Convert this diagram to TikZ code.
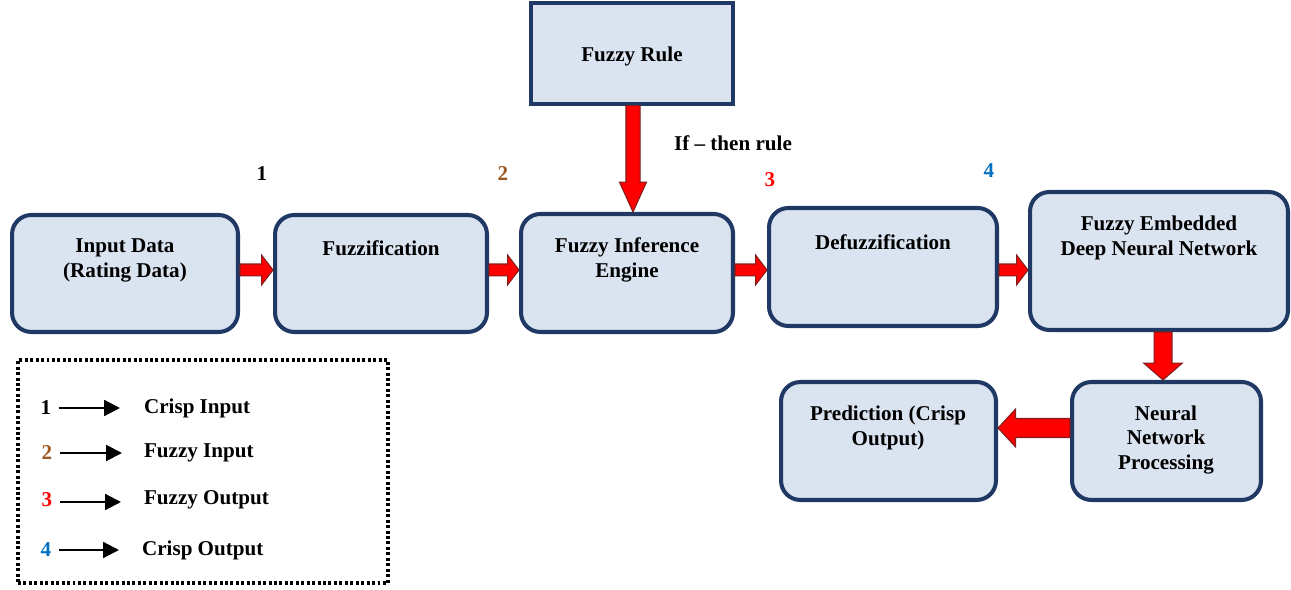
\documentclass[tikz,border=0pt]{standalone}
\usepackage{fontspec}
\setmainfont{Liberation Serif}
\usetikzlibrary{arrows.meta,calc}
\definecolor{boxblue}{RGB}{218,227,240}
\definecolor{boxedge}{RGB}{31,56,100}
\definecolor{arrowred}{RGB}{255,0,0}
\definecolor{arrowedge}{RGB}{130,30,30}
\definecolor{numbrown}{RGB}{156,87,30}
\definecolor{numblue}{RGB}{0,112,192}

\tikzset{
  stage/.style={draw=boxedge, fill=boxblue, line width=2.3pt, rounded corners=11pt, inner sep=0pt},
  rulebox/.style={draw=boxedge, fill=boxblue, line width=1.8pt, inner sep=0pt},
  txt/.style={font=\bfseries\fontsize{12}{14.2}\selectfont, align=center, inner sep=1pt},
  keybox/.style={draw=black, line width=1.8pt, dash pattern=on 1.7pt off 1.4pt, inner sep=0pt},
  key/.style={-{Triangle[length=9pt,width=9pt]}, line width=1.2pt, shorten <=3pt},
  % fat block arrow between two points
  fat shaft/.store in=\fatshaft, fat wing/.store in=\fatwing, fat head/.store in=\fathead,
  fat shaft=3.4pt, fat wing=8.5pt, fat head=6.5pt,
  fatarrow/.style={draw=arrowedge, fill=arrowred, line width=0.6pt, line join=miter,
    to path={let \p1=($(\tikztotarget)-(\tikztostart)$), \n1={atan2(\y1,\x1)} in
      ($(\tikztostart)+(\n1+90:\fatshaft)$)
      -- ($(\tikztotarget)+(\n1+180:\fathead)+(\n1+90:\fatshaft)$)
      -- ($(\tikztotarget)+(\n1+180:\fathead)+(\n1+90:\fatwing)$)
      -- (\tikztotarget)
      -- ($(\tikztotarget)+(\n1+180:\fathead)+(\n1-90:\fatwing)$)
      -- ($(\tikztotarget)+(\n1+180:\fathead)+(\n1-90:\fatshaft)$)
      -- ($(\tikztostart)+(\n1-90:\fatshaft)$) -- cycle}},
}

\begin{document}
\begin{tikzpicture}[x=0.02cm,y=-0.02cm]
\useasboundingbox (0,0) rectangle (1291,590);

% Fuzzy rule base
\node[rulebox, minimum width=4.04cm, minimum height=2.02cm] (rule) at (632,53.5) {};
\node[txt] (ruletxt) at (632,56) {Fuzzy Rule};

% Top row of stages
\node[stage, minimum width=4.52cm, minimum height=2.34cm] (input) at (125,273.5) {};
\node[txt] (inputtxt) at (125,260) {Input Data\\(Rating Data)};
\node[stage, minimum width=4.24cm, minimum height=2.34cm] (fuzz) at (381,273.5) {};
\node[txt] (fuzztxt) at (381,248) {Fuzzification};
\node[stage, minimum width=4.24cm, minimum height=2.36cm] (infer) at (627,273) {};
\node[txt] (infertxt) at (627,260) {Fuzzy Inference\\Engine};
\node[stage, minimum width=4.56cm, minimum height=2.36cm] (defuzz) at (883,267) {};
\node[txt] (defuzztxt) at (883,242) {Defuzzification};
\node[stage, minimum width=5.16cm, minimum height=2.76cm] (fednn) at (1159,261) {};
\node[txt] (fednntxt) at (1159,238) {Fuzzy Embedded\\Deep Neural Network};

% Bottom row
\node[stage, minimum width=3.78cm, minimum height=2.36cm] (nnproc) at (1166.5,441) {};
\node[txt] (nnproctxt) at (1166,440) {Neural\\Network\\Processing};
\node[stage, minimum width=4.30cm, minimum height=2.36cm] (pred) at (888.5,441) {};
\node[txt] (predtxt) at (888,428) {Prediction (Crisp\\Output)};

% Stage numbers
\node[txt] (num1) at (262,174) {1};
\node[txt, text=numbrown] (num2) at (503,174) {2};
\node[txt, text=arrowred] (num3) at (770,180) {3};
\node[txt, text=numblue] (num4) at (989,171) {4};
\node[txt] (iftxt) at (733,143) {If -- then rule};

% Block arrows
\coordinate (row) at (0,270);
\draw[fatarrow] (input.east |- row) to (fuzz.west |- row);
\draw[fatarrow] (fuzz.east |- row) to (infer.west |- row);
\draw[fatarrow] (infer.east |- row) to (defuzz.west |- row);
\draw[fatarrow] (defuzz.east |- row) to (fednn.west |- row);
\coordinate (ruleaxis) at (633,0);
\draw[fatarrow, fat shaft=4pt, fat wing=7.7pt, fat head=17pt] (rule.south -| ruleaxis) to (infer.north -| ruleaxis);
\coordinate (down) at (1163,0);
\draw[fatarrow, fat shaft=5.1pt, fat wing=11pt, fat head=9.6pt] (fednn.south -| down) to (nnproc.north -| down);
\coordinate (back) at (0,428);
\draw[fatarrow, fat shaft=5.4pt, fat wing=10.8pt, fat head=10pt] (nnproc.west |- back) to (pred.east |- back);

% Legend
\node[keybox, minimum width=7.4cm, minimum height=4.46cm] (legend) at (203,471.5) {};
\node[txt] (k1) at (46,408) {1};
\node[txt, text=numbrown] (k2) at (47,453) {2};
\node[txt, text=arrowred] (k3) at (47,500) {3};
\node[txt, text=numblue] (k4) at (46,550) {4};
\coordinate (k1end) at (120,408);
\coordinate (k2end) at (122,453);
\coordinate (k3end) at (121,502);
\coordinate (k4end) at (119,550);
\draw[key] (k1.east |- k1end) -- (k1end);
\draw[key] (k2.east |- k2end) -- (k2end);
\draw[key] (k3.east |- k3end) -- (k3end);
\draw[key] (k4.east |- k4end) -- (k4end);
\node[txt, anchor=west] (t1) at (142,408) {Crisp Input};
\node[txt, anchor=west] (t2) at (142,453) {Fuzzy Input};
\node[txt, anchor=west] (t3) at (142,500) {Fuzzy Output};
\node[txt, anchor=west] (t4) at (140,550) {Crisp Output};
\end{tikzpicture}
\end{document}
